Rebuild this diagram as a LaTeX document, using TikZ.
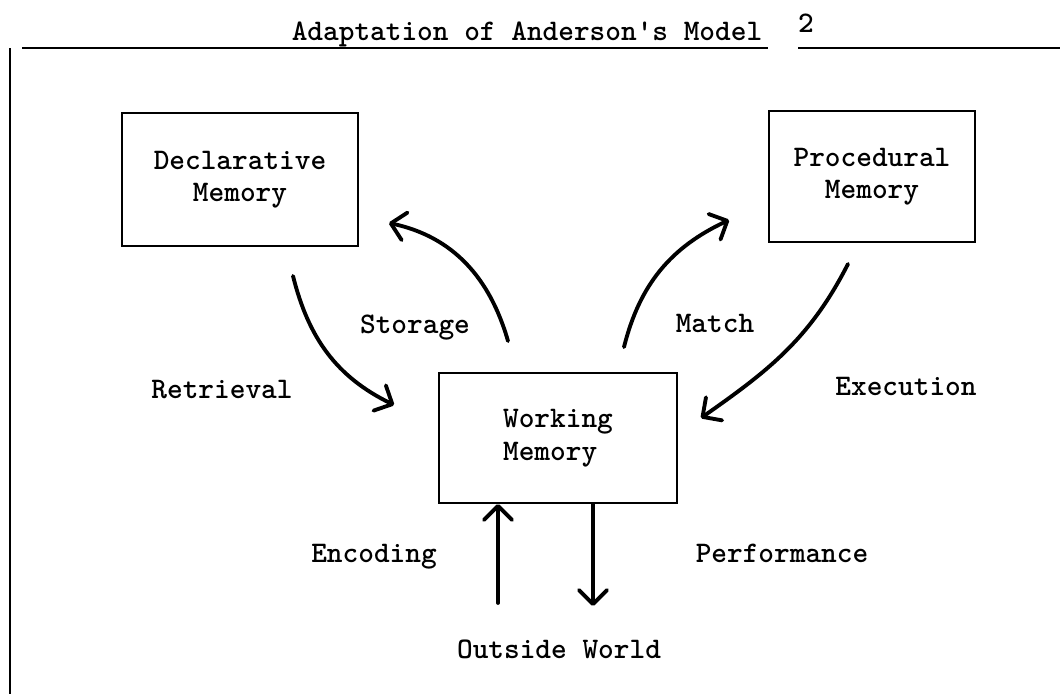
\documentclass[tikz,border=0pt]{standalone}
\usepackage{tikz}
\usetikzlibrary{arrows.meta}

\begin{document}
\begin{tikzpicture}[x=0.02cm, y=0.02cm,
        every node/.style={font=\ttfamily\bfseries\fontsize{17}{18.5}\selectfont},
        box/.style={rectangle, draw, line width=1.1pt, align=center, inner sep=0pt},
        lbl/.style={anchor=base},
        arrow/.style={-{Straight Barb[length=8pt,width=16pt,round]}, line width=2.2pt, line cap=round}]

        \useasboundingbox (0,0) rectangle (1060,-694);

        % Header
        \node[lbl] (title) at (527,-40) {Adaptation of Anderson\textquotesingle s Model};
        \node[lbl] (page) at (806,-32) {2};
        \draw[line width=1.5pt] (22,-48) -- (768,-48);
        \draw[line width=1.5pt] (798,-48) -- (1060,-48);
        \draw[line width=1.1pt] (10,-48) -- (10,-694);

        % Memories
        \node[box, minimum width=4.72cm, minimum height=2.66cm] (decl) at (240,-179.5) {Declarative\\Memory};
        \node[box, minimum width=4.12cm, minimum height=2.62cm] (proc) at (872,-176.5) {Procedural\\Memory};
        \node[box, minimum width=4.76cm, minimum height=2.6cm, align=left] (work) at (558,-438) {Working\\Memory};

        % Labels
        \node[lbl] (storage) at (415,-333) {Storage};
        \node[lbl] (match) at (715,-332) {Match};
        \node[lbl] (retrieval) at (222,-398) {Retrieval};
        \node[lbl] (execution) at (906,-395) {Execution};
        \node[lbl] (encoding) at (374,-562) {Encoding};
        \node[lbl] (performance) at (782,-562) {Performance};
        \node[lbl] (world) at (559,-658) {Outside World};

        % Arrows
        \draw[arrow] ([shift={(53,-29)}]decl.south) to[out=-76, in=154] ([shift={(-44,33)}]work.west);
        \draw[arrow] ([shift={(-50,31)}]work.north) to[out=106, in=-12] ([shift={(30,-43.5)}]decl.east);
        \draw[arrow] ([shift={(66,25)}]work.north) to[out=76, in=-155] ([shift={(-39,-43.5)}]proc.west);
        \draw[arrow] ([shift={(-24,-21)}]proc.south) to[out=-117, in=35] ([shift={(23,20)}]work.east);

        \draw[arrow] ([shift={(-60,-99)}]work.south) -- ([shift={(-60,0)}]work.south);
        \draw[arrow] ([shift={(35,0)}]work.south) -- ([shift={(35,-102)}]work.south);

\end{tikzpicture}
\end{document}
